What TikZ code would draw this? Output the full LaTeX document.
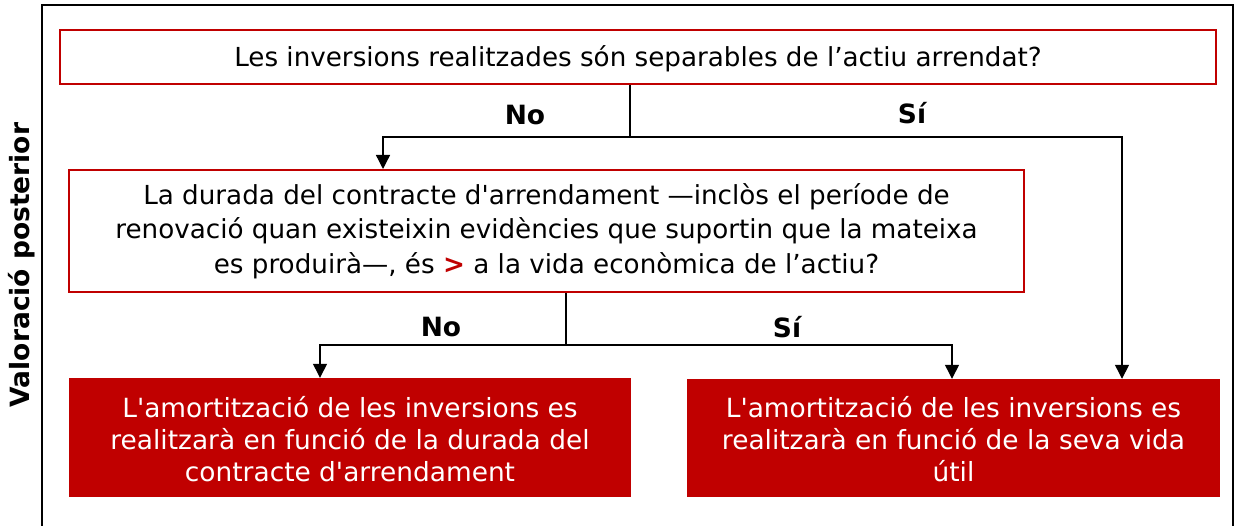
\documentclass[tikz,border=0pt]{standalone}
\usepackage{fontspec}
\newfontfamily\diagramFont{DejaVu Sans}
\usepackage{xcolor}
\usepackage{tikz}
\usetikzlibrary{positioning,calc,arrows.meta}
\definecolor{darkRed}{HTML}{C00000}
\tikzset{
  questionBox/.style={
    rectangle,
    draw=darkRed,
    line width=2pt,
    fill=white,
    align=center,
    inner sep=0pt,
    font=\diagramFont\fontsize{26.2}{34.5}\selectfont
  },
  answerBox/.style={
    rectangle,
    fill=darkRed,
    text=white,
    align=center,
    inner sep=0pt,
    text height=93pt,
    text depth=6pt,
    font=\diagramFont\fontsize{26.4}{32}\selectfont
  },
  branchLabel/.style={
    font=\diagramFont\fontsize{26.5}{30}\selectfont\bfseries
  },
  arrowLine/.style={
    -{Triangle[length=14pt,width=14pt]},
    line width=1.3pt
  },
  plainLine/.style={
    line width=1.3pt
  }
}

\begin{document}
\begin{tikzpicture}[x=1pt,y=-1pt]
        \useasboundingbox (0,0) rectangle (1238,526);
        \draw[line width=2pt] (42,526) -- (42,5) -- (1233,5) -- (1233,526);
        \node[rotate=90, font=\diagramFont\fontsize{26.5}{30}\selectfont\bfseries] (sideLabel) at (22,265) {Valoració posterior};

        \node[questionBox, minimum width=1156, minimum height=54, text height=26pt, text depth=6.2pt] (separable) at (638,57)
            {Les inversions realitzades són separables de l’actiu arrendat?};
        \node[questionBox, minimum width=955, minimum height=122] (durada) at (546.5,231)
            {La durada del contracte d'arrendament —inclòs el període de\\
             renovació quan existeixin evidències que suportin que la mateixa\\
             es produirà—, és {\color{darkRed}\bfseries >} a la vida econòmica de l’actiu?};
        \node[answerBox, minimum width=562, minimum height=119] (amortContracte) at (350,437.5)
            {L'amortització de les inversions es\\
             realitzarà en funció de la durada del\\
             contracte d'arrendament};
        \node[answerBox, minimum width=533, minimum height=118] (amortVida) at (953.5,438)
            {L'amortització de les inversions es\\
             realitzarà en funció de la seva vida\\
             útil};

        \coordinate (splitTop) at (630,137);
        \coordinate (splitMid) at (566,345);

        \draw[plainLine] (separable.south -| splitTop) -- (splitTop);
        \draw[arrowLine] (splitTop) -| ([xshift=-163.5]durada.north);
        \draw[arrowLine] (splitTop) -| ([xshift=168.5]amortVida.north);
        \draw[plainLine] (durada.south -| splitMid) -- (splitMid);
        \draw[arrowLine] (splitMid) -| ([xshift=-30]amortContracte.north);
        \draw[arrowLine] (splitMid) -| ([xshift=-1.5]amortVida.north);

        \node[branchLabel] (noTop) at (525,115) {No};
        \node[branchLabel] (siTop) at (912,113) {Sí};
        \node[branchLabel] (noMid) at (441,327) {No};
        \node[branchLabel] (siMid) at (787,327) {Sí};
    \end{tikzpicture}
\end{document}
